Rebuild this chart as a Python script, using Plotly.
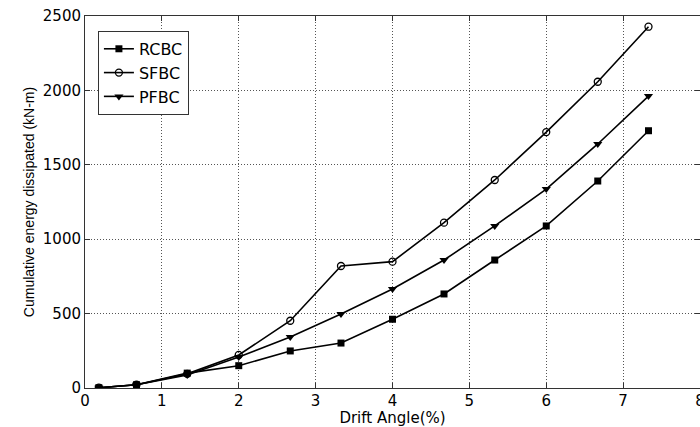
import plotly.graph_objects as go

drift = [0.18, 0.67, 1.33, 2.0, 2.67, 3.33, 4.0, 4.67, 5.33, 6.0, 6.67, 7.33]
rcbc = [2, 22, 100, 150, 249, 302, 462, 632, 860, 1089, 1391, 1729]
sfbc = [2, 22, 95, 222, 452, 820, 849, 1111, 1398, 1720, 2058, 2428]
pfbc = [2, 22, 88, 208, 343, 497, 665, 860, 1089, 1337, 1640, 1962]
x_ticks = [0, 1, 2, 3, 4, 5, 6, 7, 8]
y_ticks = [0, 500, 1000, 1500, 2000, 2500]

fig = go.Figure()
fig.add_trace(go.Scatter(x=drift, y=rcbc, name="RCBC", mode="lines+markers",
                         line=dict(color="black", width=1.6),
                         marker=dict(symbol="square", size=7, color="black")))
fig.add_trace(go.Scatter(x=drift, y=sfbc, name="SFBC", mode="lines+markers",
                         line=dict(color="black", width=1.6),
                         marker=dict(symbol="circle-open", size=7, color="black",
                                     line=dict(width=1.3))))
fig.add_trace(go.Scatter(x=drift, y=pfbc, name="PFBC", mode="lines+markers",
                         line=dict(color="black", width=1.6),
                         marker=dict(symbol="triangle-down", size=8, color="black")))

wide = "DejaVu Sans, Verdana, sans-serif"
narrow = "Liberation Sans, Arial, Helvetica, sans-serif"
axis_common = dict(showgrid=True, gridcolor="#555555", griddash="1px,2px", gridwidth=1,
                   showline=True, linecolor="#333333", linewidth=1, mirror="ticks",
                   ticks="inside", ticklen=5, tickcolor="#333333", zeroline=False,
                   tickfont=dict(size=15, color="black", family=wide),
                   ticklabeloverflow="allow", automargin=False)

fig.update_layout(
    width=700, height=427,
    margin=dict(l=85, r=0, t=16, b=39),
    paper_bgcolor="white", plot_bgcolor="white",
    font=dict(family=wide, color="black"),
    xaxis=dict(range=[0, 8], tickvals=x_ticks, ticklabelstandoff=-1,
               title=dict(text="Drift Angle(%)", font=dict(size=15, family=wide), standoff=9),
               **axis_common),
    yaxis=dict(range=[0, 2500], tickvals=y_ticks,
               title=dict(text="Cumulative energy dissipated (kN-m)",
                          font=dict(size=14, family=narrow), standoff=4),
               **axis_common),
    legend=dict(x=0.021, y=0.96, xanchor="left", yanchor="top",
                bgcolor="white", bordercolor="#333333", borderwidth=1,
                font=dict(size=16, color="black", family=wide),
                itemwidth=30, tracegroupgap=0),
    showlegend=True,
)

fig.write_html("out.html", config={"displayModeBar": False},
               post_script="document.body.style.margin='0px';document.body.style.overflow='hidden';")
